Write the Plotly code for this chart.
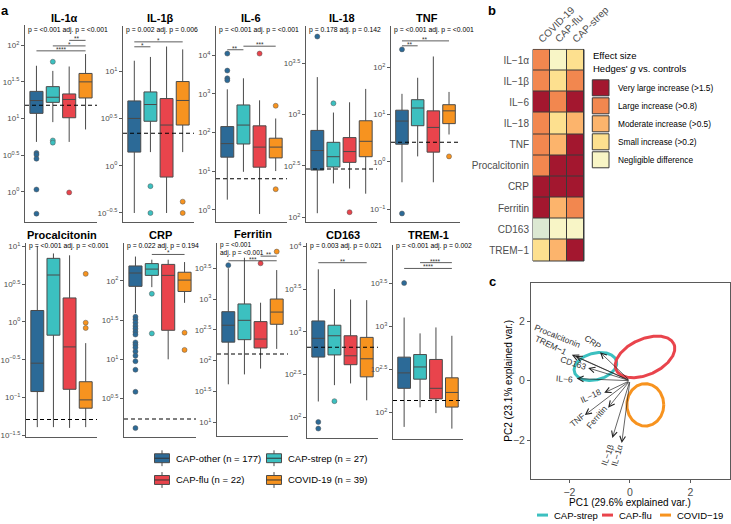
import numpy as np
import plotly.graph_objects as go

W, H = 731, 524
FONT = "Liberation Sans, Arial, Helvetica, sans-serif"
AXC = "#5a5a5a"
TICKC = "#4d4d4d"
BOXLINE = "#4a4a4a"

# ---------------- data: panel a ----------------
groups = ["CAP-other", "CAP-strep", "CAP-flu", "COVID-19"]
group_n = [177, 27, 22, 39]
group_colors = ["#2C6A97", "#3CC0C0", "#E9444C", "#F7931F"]

markers = ["IL-1α", "IL-1β", "IL-6", "IL-18", "TNF",
           "Procalcitonin", "CRP", "Ferritin", "CD163", "TREM-1"]
p_labels = [
    "p = <0.001 adj. p = <0.001",
    "p = 0.002 adj. p = 0.006",
    "p = <0.001 adj. p = <0.001",
    "p = 0.178 adj. p = 0.142",
    "p = <0.001 adj. p = <0.001",
    "p = <0.001 adj. p = <0.001",
    "p = 0.022 adj. p = 0.194",
    "p = <0.001<br>adj. p = <0.001",
    "p = 0.003 adj. p = 0.021",
    "p = <0.001 adj. p = 0.002",
]
# all values below are log10 of the concentration
log_lower = [
    [0.68, 0.95, 0.68, 0.85],
    [-0.50, 0.144, -0.50, 0.144],
    [0.26, 0.98, -0.11, 1.00],
    [2.04, 2.33, 2.28, 2.23],
    [-0.43, 0.117, -0.43, 0.58],
    [-1.39, -1.39, -1.40, -1.39],
    [1.59, 1.92, 1.00, 1.72],
    [1.615, 1.776, 1.87, 2.19],
    [2.186, 2.377, 2.397, 2.20],
    [1.83, 2.057, 1.99, 1.81],
]
log_q1 = [
    [1.07, 1.22, 1.01, 1.28],
    [0.144, 0.47, -0.12, 0.43],
    [1.36, 1.70, 1.10, 1.34],
    [2.46, 2.49, 2.535, 2.59],
    [0.375, 0.766, 0.207, 0.81],
    [-0.92, -0.175, -0.89, -1.14],
    [1.93, 2.07, 1.37, 1.865],
    [2.30, 2.34, 2.205, 2.59],
    [2.705, 2.73, 2.616, 2.474],
    [2.278, 2.384, 2.155, 2.06],
]
log_median = [
    [1.245, 1.29, 1.26, 1.50],
    [0.50, 0.647, 0.43, 0.69],
    [1.71, 2.19, 1.62, 1.62],
    [2.65, 2.59, 2.64, 2.74],
    [0.864, 1.14, 0.73, 1.08],
    [-0.545, 0.62, -0.33, -1.03],
    [2.10, 2.15, 2.07, 2.01],
    [2.574, 2.654, 2.35, 2.788],
    [2.924, 2.954, 2.72, 2.685],
    [2.457, 2.526, 2.278, 2.23],
]
log_q3 = [
    [1.37, 1.435, 1.335, 1.615],
    [0.685, 0.78, 0.71, 0.89],
    [2.15, 2.71, 2.17, 1.85],
    [2.846, 2.73, 2.776, 2.94],
    [1.094, 1.316, 1.08, 1.21],
    [0.151, 0.84, 0.317, -0.79],
    [2.19, 2.22, 2.21, 2.11],
    [2.794, 2.92, 2.633, 3.00],
    [3.127, 3.077, 2.954, 2.935],
    [2.64, 2.67, 2.613, 2.40],
]
log_upper = [
    [1.72, 1.65, 1.71, 1.88],
    [1.11, 1.15, 1.26, 1.23],
    [3.115, 3.40, 2.83, 2.36],
    [3.365, 3.02, 3.12, 3.25],
    [1.44, 1.78, 2.23, 1.48],
    [1.00, 0.905, 0.88, -0.28],
    [2.31, 2.27, 2.27, 2.24],
    [3.50, 3.67, 2.94, 3.47],
    [3.73, 3.50, 3.377, 3.37],
    [3.10, 2.916, 2.985, 2.888],
]
log_outliers = [
    [[0.53, 0.505, 0.45, 0.03, -0.30], [1.775, 0.70, 0.67], [-0.01], []],
    [[], [-0.216, -0.50], [], [-0.38, -0.50]],
    [[4.04, 3.60, 3.40, 3.35], [], [4.04], [2.69, 0.53]],
    [[3.76], [3.11], [2.05], []],
    [[2.38, -1.09], [], [], [0.117]],
    [[], [], [], [0.635, -0.01, -0.08]],
    [[1.543, 1.509, 1.467, 1.425, 1.39, 1.35, 1.316, 1.215, 1.185, 1.15,
      1.10, 1.047, 0.976, 0.867, 0.586, 0.123], [1.836, 1.33], [], [1.34, 1.12]],
    [[3.55], [], [3.58], [3.77]],
    [[1.947, 1.87], [2.19], [], []],
    [[3.50], [], [], []],
]
log_controls = [1.18, 0.343, 0.80, 2.47, 0.416, -1.29, 0.24, 2.108, 2.82, 2.137]
y_tick_exps = [
    [0, 0.5, 1, 1.5, 2],
    [-0.5, 0, 0.5, 1],
    [0, 1, 2, 3, 4],
    [2, 2.5, 3, 3.5],
    [-1, 0, 1, 2],
    [-1.5, -1, -0.5, 0, 0.5, 1],
    [0.5, 1, 1.5, 2],
    [1, 1.5, 2, 2.5, 3, 3.5],
    [2, 2.5, 3, 3.5, 4],
    [2, 2.5, 3, 3.5],
]
y_log_ranges = [[-0.42, 2.28], [-0.60, 1.48], [-0.33, 4.76], [1.95, 3.865], [-1.28, 2.88],
                [-1.52, 1.04], [0.01, 2.48], [0.776, 3.906], [1.76, 4.035], [1.69, 3.94]]
# pairwise tests: (group a, group b, stars, stacking height in panel fraction)
sig_tests = [
    [(0, 3, "****", 0.868), (1, 3, "*", 0.893), (2, 3, "**", 0.921)],
    [(0, 3, "*", 0.918), (0, 1, "*", 0.893)],
    [(0, 1, "**", 0.878), (1, 3, "***", 0.896)],
    [],
    [(0, 3, "**", 0.923), (0, 1, "**", 0.898)],
    [],
    [(1, 3, "*", 0.942)],
    [(2, 3, "**", 0.933), (0, 3, "***", 0.909)],
    [(0, 3, "**", 0.90)],
    [(1, 3, "****", 0.91), (0, 3, "****", 0.88)],
]

# ---------------- data: panel b ----------------
hm_cols = ["COVID-19", "CAP-flu", "CAP-strep"]
hm_rows = ["IL−1α", "IL−1β", "IL−6", "IL−18", "TNF", "Procalcitonin", "CRP", "Ferritin", "CD163", "TREM−1"]
# 0 small decrease, 1 negligible, 2 small, 3 moderate, 4 large, 5 very large increase
hm_codes = [
    [4, 1, 2],
    [4, 2, 4],
    [5, 4, 5],
    [4, 2, 3],
    [4, 3, 5],
    [4, 5, 5],
    [5, 5, 5],
    [5, 3, 4],
    [0, 1, 1],
    [2, 3, 5],
]
code_colors = ["#DCE8D2", "#F8F5C6", "#FDE08F", "#FCB46C", "#F2874F", "#A3172F"]
effect_labels = ["Very large increase (>1.5)", "Large increase (>0.8)",
                 "Moderate increase (>0.5)", "Small increase (>0.2)", "Negligible difference"]
effect_label_codes = [5, 4, 3, 2, 1]

# ---------------- data: panel c ----------------
ell_groups = ["CAP-strep", "CAP-flu", "COVID-19"]
ell_colors = ["#3CC0C0", "#E9444C", "#F7931F"]
ell_cx = [-1.14, 0.50, 0.51]
ell_cy = [0.48, 0.80, -0.815]
ell_a = [0.72, 1.05, 0.61]
ell_b = [0.45, 0.60, 0.715]
ell_angle = [15, 25, 0]

load_names = ["Procalcitonin", "TREM−1", "CRP", "CD163", "IL−6", "IL−18", "TNF", "Ferritin", "IL−1β", "IL−1α"]
load_pc1 = [-1.92, -1.80, -0.99, -1.38, -1.76, -0.85, -1.49, -0.72, -0.58, -0.27]
load_pc2 = [0.87, 0.83, 0.96, 0.43, 0.07, -0.41, -1.16, -0.91, -1.93, -2.10]
label_pc1 = [-2.41, -2.62, -1.23, -1.88, -2.15, -1.30, -1.74, -1.10, -0.75, -0.42]
label_pc2 = [1.49, 1.21, 1.31, 0.59, 0.06, -0.52, -1.32, -1.21, -2.49, -2.51]
label_angle = [22, 25, 35, 18, 4, -25, -40, -50, -70, -74]

# ---------------- layout helpers ----------------
def px(x):
    return x / W

def py(y):
    return 1 - y / H

def axname(k):
    return "" if k == 1 else str(k)

panel_px = [
    (25, 97, 22, 222), (123, 194, 23, 222), (216, 287, 23, 222), (306, 377, 23, 222), (391, 460, 23, 222),
    (26, 97, 243, 439), (124, 196, 243, 439), (217, 288, 243, 438), (307, 378, 243, 440), (393, 463, 245, 441),
]
title_y = [15] * 5 + [235, 235, 234, 235, 235]
title_dx = [3, 2, 0, 0, 1, 0, 0, 0, 0, 0]
ptext_y = [27] * 5 + [246, 246, 249, 246, 246]
ptext_size = [6.8] * 7 + [6.5] + [6.8] * 2
XR = [-0.7, 3.7]

def fmt_exp(e):
    s = ("%g" % e).replace("-", "−")
    return "10<sup>%s</sup>" % s

fig = go.Figure()
layout = dict(width=W, height=H, margin=dict(l=0, r=0, t=0, b=0),
              paper_bgcolor="white", plot_bgcolor="white", showlegend=False,
              font=dict(family=FONT, color="black"), boxmode="overlay")
annotations = []
shapes = []

for i, name in enumerate(markers):
    k = i + 1
    n = axname(k)
    x0, x1, y0, y1 = panel_px[i]
    layout["xaxis" + n] = dict(domain=[px(x0), px(x1)], range=XR, anchor="y" + n,
                               showline=True, linecolor=AXC, linewidth=1, ticks="",
                               showticklabels=False, showgrid=False, zeroline=False)
    layout["yaxis" + n] = dict(domain=[py(y1), py(y0)], type="log", range=y_log_ranges[i],
                               anchor="x" + n, showline=True, linecolor=AXC, linewidth=1,
                               ticks="outside", ticklen=3, tickcolor=AXC, tickwidth=1,
                               tickvals=[10 ** e for e in y_tick_exps[i]],
                               ticktext=[fmt_exp(e) for e in y_tick_exps[i]],
                               tickfont=dict(size=8, color=TICKC), showgrid=False, zeroline=False)
    for g in range(4):
        fig.add_trace(go.Box(
            x=[g], q1=[10 ** log_q1[i][g]], median=[10 ** log_median[i][g]],
            q3=[10 ** log_q3[i][g]], lowerfence=[10 ** log_lower[i][g]],
            upperfence=[10 ** log_upper[i][g]], fillcolor=group_colors[g],
            line=dict(color=BOXLINE, width=1), width=0.8, whiskerwidth=0,
            boxpoints=False, xaxis="x" + n, yaxis="y" + n, hoverinfo="skip"))
        if log_outliers[i][g]:
            fig.add_trace(go.Scatter(
                x=[g] * len(log_outliers[i][g]), y=[10 ** v for v in log_outliers[i][g]],
                mode="markers", marker=dict(size=5, color=group_colors[g],
                                            line=dict(color="#555555", width=0.5)),
                xaxis="x" + n, yaxis="y" + n, hoverinfo="skip"))
    fig.add_trace(go.Scatter(x=XR, y=[10 ** log_controls[i]] * 2, mode="lines",
                             line=dict(color="black", width=1.1, dash="4px,3px"),
                             xaxis="x" + n, yaxis="y" + n, hoverinfo="skip"))
    for (ga, gb, stars, fy) in sig_tests[i]:
        shapes.append(dict(type="line", xref="x" + n, yref="y%s domain" % n,
                           x0=ga, x1=gb, y0=fy, y1=fy, line=dict(color="#333333", width=0.8)))
        annotations.append(dict(xref="x" + n, yref="y%s domain" % n, x=(ga + gb) / 2, y=fy,
                                text=stars, showarrow=False, xanchor="center", yanchor="bottom",
                                yshift=-4, font=dict(size=6.5, color="#333333")))
    annotations.append(dict(xref="paper", yref="paper", x=px((x0 + x1) / 2 + title_dx[i]),
                            y=py(title_y[i]), text="<b>%s</b>" % name, showarrow=False,
                            xanchor="center", yanchor="middle", borderpad=0,
                            font=dict(size=11, color="black")))
    annotations.append(dict(xref="paper", yref="paper", x=px(x0 + 1.5), y=py(ptext_y[i]),
                            text=p_labels[i], showarrow=False, xanchor="left", yanchor="middle",
                            align="left", borderpad=0,
                            font=dict(size=ptext_size[i], color="black")))

# legend for panel a (drawn)
leg_x = [154.5, 266.5]
leg_y = [460.5, 482.5]
for g in range(4):
    gx = leg_x[g % 2]
    gy = leg_y[g // 2]
    shapes.append(dict(type="line", xref="paper", yref="paper", x0=px(gx + 7.5), x1=px(gx + 7.5),
                       y0=py(gy - 8), y1=py(gy + 8), line=dict(color=BOXLINE, width=1)))
    shapes.append(dict(type="rect", xref="paper", yref="paper", x0=px(gx), x1=px(gx + 15),
                       y0=py(gy + 4.5), y1=py(gy - 4.5), fillcolor=group_colors[g],
                       line=dict(color=BOXLINE, width=1)))
    shapes.append(dict(type="line", xref="paper", yref="paper", x0=px(gx), x1=px(gx + 15),
                       y0=py(gy), y1=py(gy), line=dict(color="#333333", width=1)))
    annotations.append(dict(xref="paper", yref="paper", x=px(gx + 19.5), y=py(gy),
                            text="%s (n = %d)" % (groups[g], group_n[g]), showarrow=False,
                            xanchor="left", yanchor="middle", font=dict(size=9.5, color="black")))

# ---------------- panel b: heatmap ----------------
nc = len(code_colors)
cscale = []
for c, col in enumerate(code_colors):
    cscale.append([c / nc, col])
    cscale.append([(c + 1) / nc, col])
fig.add_trace(go.Heatmap(z=hm_codes, x=hm_cols, y=hm_rows, colorscale=cscale,
                         zmin=-0.5, zmax=nc - 0.5, showscale=False, xgap=1, ygap=1,
                         xaxis="x11", yaxis="y11", hoverinfo="skip"))
HM = (533, 584, 47, 261)
layout["xaxis11"] = dict(domain=[px(HM[0]), px(HM[1])], anchor="y11", showticklabels=False,
                         ticks="", showgrid=False, zeroline=False, showline=False)
layout["yaxis11"] = dict(domain=[py(HM[3]), py(HM[2])], anchor="x11", autorange="reversed",
                         ticks="", showgrid=False, zeroline=False, showline=False,
                         tickfont=dict(size=10, color=TICKC), ticklabelstandoff=3)
shapes.append(dict(type="rect", xref="x11 domain", yref="y11 domain", x0=0, x1=1, y0=0, y1=1,
                   fillcolor="#3a3a3a", line=dict(color="#3a3a3a", width=1), layer="below"))
col_w = (HM[1] - HM[0]) / len(hm_cols)
for j, cname in enumerate(hm_cols):
    cx = HM[0] + col_w * (j + 0.5)
    annotations.append(dict(xref="paper", yref="paper", x=px(cx - 8.5), y=py(45), text=cname,
                            textangle=-45, showarrow=False, xanchor="left", yanchor="bottom",
                            font=dict(size=10, color=TICKC)))
annotations.append(dict(xref="paper", yref="paper", x=px(591), y=py(53), text="Effect size",
                        showarrow=False, xanchor="left", yanchor="middle",
                        font=dict(size=9.5, color="black")))
annotations.append(dict(xref="paper", yref="paper", x=px(591), y=py(66),
                        text="Hedges' <i>g</i> vs. controls", showarrow=False,
                        xanchor="left", yanchor="middle", font=dict(size=9.5, color="black")))
for r, (lab, code) in enumerate(zip(effect_labels, effect_label_codes)):
    top = 76.7 + r * 18.2
    shapes.append(dict(type="rect", xref="paper", yref="paper", x0=px(592.3), x1=px(609),
                       y0=py(top + 17.2), y1=py(top + 1), fillcolor=code_colors[code],
                       line=dict(color="#3a3a3a", width=1)))
    annotations.append(dict(xref="paper", yref="paper", x=px(615.5), y=py(top + 9.3), text=lab,
                            showarrow=False, xanchor="left", yanchor="middle",
                            font=dict(size=8.3, color="black")))

# ---------------- panel c: PCA biplot ----------------
t = np.linspace(0, 2 * np.pi, 241)
for e in range(len(ell_groups)):
    th = np.deg2rad(ell_angle[e])
    ex = ell_cx[e] + ell_a[e] * np.cos(t) * np.cos(th) - ell_b[e] * np.sin(t) * np.sin(th)
    ey = ell_cy[e] + ell_a[e] * np.cos(t) * np.sin(th) + ell_b[e] * np.sin(t) * np.cos(th)
    fig.add_trace(go.Scatter(x=ex, y=ey, mode="lines", line=dict(color=ell_colors[e], width=3),
                             xaxis="x12", yaxis="y12", hoverinfo="skip"))
PC = (531, 730, 283, 482)
layout["xaxis12"] = dict(domain=[px(PC[0]), px(PC[1])], range=[-3.27, 3.31], anchor="y12",
                         tickvals=[-2, 0, 2], ticktext=["−2", "0", "2"], ticks="outside",
                         ticklen=3, tickcolor=AXC, showline=True, mirror=True, linecolor=AXC,
                         linewidth=1, tickfont=dict(size=10.5, color=TICKC),
                         showgrid=False, zeroline=False)
layout["yaxis12"] = dict(domain=[py(PC[3]), py(PC[2])], range=[-3.33, 3.30], anchor="x12",
                         tickvals=[-2, 0, 2], ticktext=["−2", "0", "2"], ticks="outside",
                         ticklen=3, tickcolor=AXC, showline=True, mirror=True, linecolor=AXC,
                         linewidth=1, tickfont=dict(size=10.5, color=TICKC),
                         showgrid=False, zeroline=False)
for v in range(len(load_names)):
    annotations.append(dict(xref="x12", yref="y12", axref="x12", ayref="y12",
                            x=load_pc1[v], y=load_pc2[v], ax=0, ay=0, text="",
                            showarrow=True, arrowhead=5, arrowsize=1.6, arrowwidth=0.7,
                            arrowcolor="#222222", standoff=0, startstandoff=0))
    annotations.append(dict(xref="x12", yref="y12", x=label_pc1[v], y=label_pc2[v],
                            text=load_names[v], textangle=label_angle[v], showarrow=False,
                            xanchor="center", yanchor="middle",
                            font=dict(size=8.5, color="#333333")))
annotations.append(dict(xref="paper", yref="paper", x=px(630), y=py(505),
                        text="PC1 (29.6% explained var.)", showarrow=False, borderpad=0,
                        xanchor="center", yanchor="middle", font=dict(size=10, color="black")))
annotations.append(dict(xref="paper", yref="paper", x=px(509), y=py(382),
                        text="PC2 (23.1% explained var.)", showarrow=False, textangle=-90,
                        xanchor="center", yanchor="middle", font=dict(size=10, color="black")))
leg_c_x = [537, 602, 660]
for e in range(len(ell_groups)):
    lx = leg_c_x[e]
    shapes.append(dict(type="line", xref="paper", yref="paper", x0=px(lx), x1=px(lx + 11),
                       y0=py(518), y1=py(518), line=dict(color=ell_colors[e], width=3)))
    annotations.append(dict(xref="paper", yref="paper", x=px(lx + 15), y=py(518),
                            text=ell_groups[e].replace("COVID-19", "COVID−19"), showarrow=False,
                            xanchor="left", yanchor="middle", font=dict(size=9.5, color="black")))

# panel letters
for letter, (lx, ly) in zip(["a", "b", "c"], [(5, 8), (492, 8), (492, 282)]):
    annotations.append(dict(xref="paper", yref="paper", x=px(lx), y=py(ly),
                            text="<b>%s</b>" % letter, showarrow=False, xanchor="center",
                            yanchor="middle", font=dict(size=13, color="black")))

layout["annotations"] = annotations
layout["shapes"] = shapes
fig.update_layout(**layout)
fig.write_html("out.html", config={"displayModeBar": False, "staticPlot": True},
               post_script="document.body.style.margin='0';document.body.style.padding='0';"
                           "document.body.style.overflow='hidden';")
